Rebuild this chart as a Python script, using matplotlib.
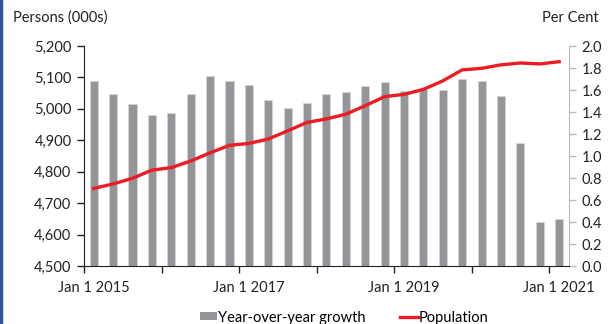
import matplotlib.pyplot as plt
from matplotlib.lines import Line2D
from matplotlib.patches import Patch
import numpy as np

plt.rcParams['font.family'] = ['Lato', 'DejaVu Sans']

# quarterly data, Jan 2015 .. Jan 2021
quarters = ['Jan 1 2015', 'Apr 1 2015', 'Jul 1 2015', 'Oct 1 2015',
            'Jan 1 2016', 'Apr 1 2016', 'Jul 1 2016', 'Oct 1 2016',
            'Jan 1 2017', 'Apr 1 2017', 'Jul 1 2017', 'Oct 1 2017',
            'Jan 1 2018', 'Apr 1 2018', 'Jul 1 2018', 'Oct 1 2018',
            'Jan 1 2019', 'Apr 1 2019', 'Jul 1 2019', 'Oct 1 2019',
            'Jan 1 2020', 'Apr 1 2020', 'Jul 1 2020', 'Oct 1 2020',
            'Jan 1 2021']
growth = [1.68, 1.56, 1.47, 1.37, 1.39, 1.56, 1.73, 1.68, 1.645, 1.51, 1.44, 1.48,
          1.56, 1.58, 1.64, 1.67, 1.59, 1.61, 1.60, 1.70, 1.68, 1.55, 1.115, 0.40, 0.425]
population = [4747, 4761, 4779, 4805, 4813, 4834, 4860, 4884, 4890, 4904, 4930, 4957,
              4968, 4983, 5010, 5039, 5046, 5062, 5089, 5124, 5129, 5140, 5146, 5143, 5150]
label_idx = [0, 8, 16, 24]

fs = 10.5

fig = plt.figure(figsize=(6.13, 3.24), dpi=100)
ax = fig.add_axes([0.137, 0.179, 0.791, 0.679])
ax2 = ax.twinx()

x = np.arange(len(quarters))
ax2.bar(x, growth, width=0.42, color='#939598', edgecolor='#d4d5d6', linewidth=0.6, zorder=1)
ax.plot(x, population, color='#ed1c24', linewidth=2.4, zorder=5)

# put the line axis above the bars
ax.set_zorder(ax2.get_zorder() + 1)
ax.patch.set_visible(False)

ax.set_xlim(-0.5, len(quarters) - 0.5)
ax.set_ylim(4500, 5200)
ax.set_yticks(np.arange(4500, 5201, 100))
ax.set_yticklabels([f'{v:,}' for v in range(4500, 5201, 100)])
ax2.set_ylim(0, 2.0)
ax2.set_yticks(np.arange(0, 2.01, 0.2))
ax2.set_yticklabels([f'{v:.1f}' for v in np.arange(0, 2.01, 0.2)])

ax.set_xticks(np.arange(-0.5, len(quarters), 4))
ax.set_xticklabels([])
ax.set_xticks(label_idx, minor=True)
ax.set_xticklabels([quarters[i] for i in label_idx], minor=True)
ax.tick_params(axis='x', which='major', length=5, width=1, color='#222222')
ax.tick_params(axis='x', which='minor', length=0, labelsize=fs, pad=11, colors='#222222')
ax.tick_params(axis='y', length=5, width=1, labelsize=fs, colors='#222222', pad=4)
ax2.tick_params(axis='y', length=5, width=1, labelsize=fs, color='#bbbbbb',
                labelcolor='#222222', pad=4)

for a in (ax, ax2):
    a.spines['top'].set_visible(False)
ax.spines['right'].set_visible(False)
ax2.spines['left'].set_visible(False)
ax2.spines['right'].set_color('#bbbbbb')
ax.spines['left'].set_color('#222222')
ax.spines['bottom'].set_color('#222222')
ax2.spines['bottom'].set_visible(False)

fig.text(0.021, 0.945, 'Persons (000s)', fontsize=fs, color='#222222', va='center')
fig.text(0.976, 0.945, 'Per Cent', fontsize=fs, color='#222222', va='center', ha='right')

handles = [Patch(facecolor='#939598', edgecolor='none'),
           Line2D([0], [0], color='#ed1c24', linewidth=2.4)]
fig.legend(handles, ['Year-over-year growth', 'Population'], loc='center',
           bbox_to_anchor=(0.561, 0.02), ncol=2, frameon=False, fontsize=fs,
           handlelength=1.2, handleheight=0.5, handletextpad=0.05, columnspacing=2.4)

# blue frame edge on the left
fig.add_artist(Line2D([0.002, 0.002], [0, 1], transform=fig.transFigure,
                      color='#2f5597', linewidth=2.5))

fig.savefig('out.png', dpi=100)
